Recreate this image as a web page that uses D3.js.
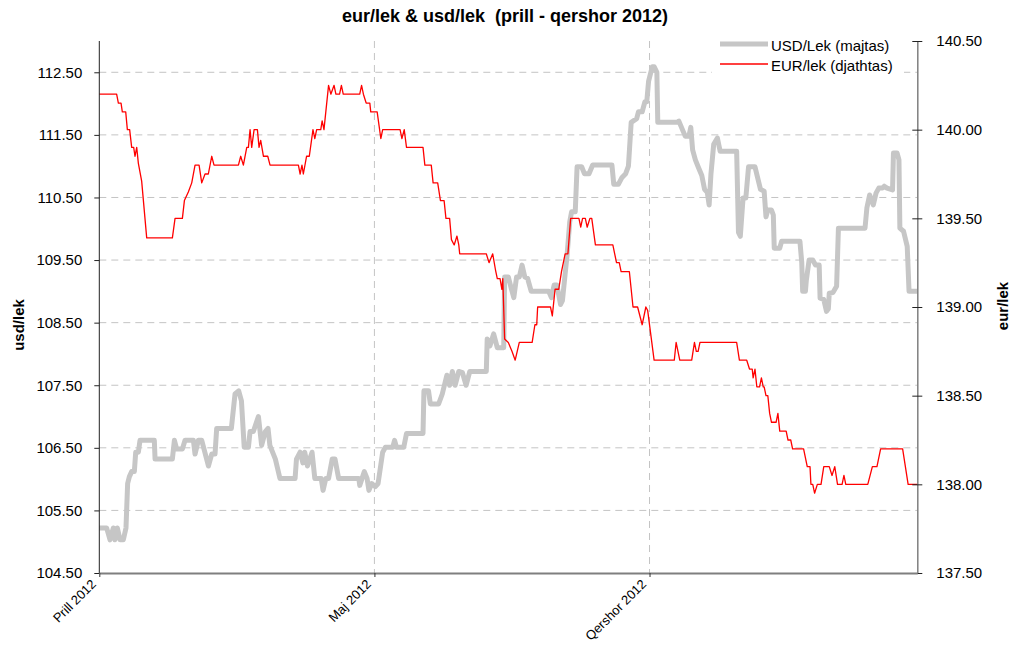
<!DOCTYPE html>
<html lang="sq">
<head>
  <meta charset="UTF-8">
  <title>eur/lek & usd/lek (prill - qershor 2012)</title>
  <script src="https://d3js.org/d3.v7.min.js"></script>
  <style>
    body { margin: 0; background: #fff; }
    svg text { font-family: "Liberation Sans", Arial, sans-serif; fill: #000; }
    .grid line { stroke: #c4c4c4; stroke-dasharray: 7,5; }
  </style>
</head>
<body>
  <svg id="chart" width="1013" height="645"></svg>

  <script>
    // month ticks on the x axis (position in days from 1 April, months drawn equally wide)
    const monthPos = [0, 30, 60];
    const monthLabels = ["Prill 2012", "Maj 2012", "Qershor 2012"];

    const usdTicks = [104.5, 105.5, 106.5, 107.5, 108.5, 109.5, 110.5, 111.5, 112.5];
    const eurTicks = [137.5, 138.0, 138.5, 139.0, 139.5, 140.0, 140.5];

    // USD/Lek (left axis)
    const usdDays = [0, 0.8, 1.17, 1.53, 1.71, 1.97, 2.26, 2.62, 2.91, 3.09, 3.28, 3.53, 3.82, 3.97, 4.26, 4.44,
      6.0, 6.08, 7.97, 8.19, 8.44, 9.06, 9.35, 10.26, 10.44, 10.8, 11.17, 11.9, 12.26, 12.62, 12.8, 14.4,
      14.8, 15.2, 15.5, 15.8, 16.26, 16.44, 16.8, 17.35, 17.7, 18.1, 18.4, 18.6, 19.2, 19.7, 21.35, 21.5,
      21.9, 22.2, 22.4, 22.7, 23.2, 23.5, 24.2, 24.4, 24.7, 25.0, 25.4, 25.7, 26.1, 28.3, 28.4, 28.9,
      29.2, 29.4, 29.7, 30.1, 30.4, 30.9, 31.2, 32.0, 32.2, 32.4, 33.2, 33.5, 35.3, 35.4, 35.9, 36.1,
      37.0, 37.4, 37.9, 38.2, 38.5, 38.8, 39.2, 39.6, 40.0, 40.4, 42.2, 42.3, 42.6, 43.0, 43.4, 44.1,
      44.2, 44.6, 44.9, 45.2, 45.5, 45.8, 46.1, 46.4, 46.7, 47.1, 49.0, 49.3, 49.6, 49.9, 50.3, 50.5,
      50.8, 51.0, 51.3, 51.5, 51.9, 52.1, 52.6, 52.9, 53.4, 53.8, 55.9, 56.1, 56.6, 57.0, 57.4, 57.7,
      58.0, 58.6, 58.8, 59.2, 59.5, 59.7, 59.9, 60.3, 60.5, 60.8, 60.9, 63.0, 63.2, 63.6, 63.9, 64.3,
      64.5, 64.7, 65.0, 65.3, 65.7, 66.0, 66.3, 66.5, 66.7, 67.0, 67.4, 67.7, 69.5, 69.7, 69.9, 70.2,
      70.5, 70.8, 71.5, 72.1, 72.5, 72.7, 72.9, 73.3, 73.5, 73.6, 74.2, 74.4, 76.4, 76.6, 76.7, 77.0,
      77.1, 77.4, 77.8, 78.1, 78.5, 78.6, 79.0, 79.3, 79.5, 79.6, 80.0, 80.4, 80.6, 83.5, 83.7, 84.0,
      84.4, 84.7, 85.0, 85.4, 85.6, 85.9, 86.5, 86.6, 87.0, 87.2, 87.3, 87.7, 88.1, 88.3, 89.2];
    const usdValues = [105.22, 105.22, 105.03, 105.22, 105.03, 105.22, 105.03, 105.03, 105.22, 105.93, 106.04, 106.12, 106.12, 106.43, 106.43, 106.62,
      106.62, 106.32, 106.32, 106.62, 106.48, 106.48, 106.62, 106.62, 106.40, 106.62, 106.62, 106.21, 106.40, 106.40, 106.81, 106.81,
      107.36, 107.41, 107.25, 106.51, 106.51, 106.76, 106.76, 107.00, 106.54, 106.76, 106.81, 106.54, 106.32, 106.01, 106.01, 106.32,
      106.43, 106.26, 106.43, 106.21, 106.43, 106.01, 106.01, 105.82, 106.01, 106.01, 106.32, 106.32, 106.01, 106.01, 105.90, 106.12,
      106.01, 105.82, 105.93, 105.88, 105.93, 106.43, 106.51, 106.51, 106.62, 106.51, 106.51, 106.73, 106.73, 107.41, 107.41, 107.20,
      107.20, 107.36, 107.66, 107.50, 107.72, 107.50, 107.72, 107.70, 107.50, 107.72, 107.72, 108.24, 108.13, 108.32, 108.10, 108.10,
      109.23, 109.23, 109.06, 108.90, 109.23, 109.23, 109.42, 109.23, 109.21, 109.00, 109.00, 108.90, 109.10, 109.10, 108.79, 108.85,
      109.28, 109.56, 110.11, 110.27, 110.27, 110.99, 110.99, 110.88, 110.88, 111.02, 111.02, 110.71, 110.71, 110.82, 110.88, 111.00,
      111.70, 111.76, 111.87, 111.87, 112.03, 112.03, 112.36, 112.59, 112.59, 112.50, 111.70, 111.70, 111.72, 111.58, 111.48, 111.48,
      111.62, 111.26, 111.10, 110.99, 110.85, 110.63, 110.58, 110.38, 110.88, 111.35, 111.45, 111.24, 111.24, 109.94, 109.88, 110.49,
      110.49, 110.99, 110.99, 110.63, 110.60, 110.19, 110.30, 110.30, 110.22, 109.69, 109.69, 109.80, 109.80, 109.46, 109.00, 109.00,
      109.18, 109.50, 109.50, 109.42, 109.42, 108.89, 108.87, 108.68, 108.72, 108.97, 108.98, 109.08, 110.01, 110.01, 110.33, 110.54,
      110.38, 110.57, 110.65, 110.65, 110.68, 110.65, 110.62, 111.21, 111.21, 111.10, 110.01, 109.96, 109.72, 109.00, 109.00];

    // EUR/lek (right axis)
    const eurDays = [0, 1.89, 2.08, 2.37, 2.51, 2.88, 3.06, 3.31, 3.53, 3.75, 3.89, 4.08, 4.26, 4.62, 5.17, 7.97,
      8.26, 9.06, 9.28, 9.72, 10.08, 10.44, 10.88, 11.17, 11.53, 11.89, 12.26, 12.51, 15.17, 15.42, 15.71, 16.08,
      16.26, 16.44, 16.62, 16.88, 17.24, 17.42, 17.6, 17.9, 18.37, 18.62, 21.71, 21.9, 22.1, 22.25, 22.6, 22.9,
      23.3, 23.5, 23.7, 24.15, 24.3, 24.5, 25.0, 25.25, 25.6, 25.8, 26.2, 26.4, 26.6, 28.4, 28.6, 28.8,
      29.1, 29.5, 29.6, 30.3, 30.7, 30.9, 32.8, 33.0, 33.25, 33.5, 35.3, 35.5, 36.2, 36.4, 36.9, 37.2,
      37.6, 37.8, 38.2, 38.4, 38.7, 39.0, 39.2, 39.3, 42.2, 42.5, 42.9, 43.2, 43.4, 43.7, 43.9, 44.0,
      44.2, 44.6, 45.0, 45.35, 45.8, 47.2, 47.5, 47.7, 47.8, 49.2, 49.4, 49.7, 50.1, 50.4, 50.8, 51.1,
      51.4, 52.3, 52.5, 52.7, 53.0, 53.2, 53.5, 53.7, 54.1, 56.0, 56.4, 56.7, 56.9, 57.8, 58.2, 58.7,
      59.2, 59.6, 59.8, 60.5, 62.7, 62.9, 63.3, 64.6, 64.9, 65.1, 65.3, 65.5, 69.5, 69.8, 70.6, 70.9,
      71.2, 71.3, 71.5, 71.7, 72.0, 72.2, 72.4, 72.5, 72.7, 72.9, 73.1, 73.3, 73.8, 74.0, 74.2, 74.9,
      75.1, 75.4, 75.6, 76.8, 77.2, 77.5, 77.6, 77.8, 78.0, 78.3, 78.7, 79.0, 79.6, 79.9, 80.2, 80.5,
      81.0, 81.2, 81.4, 83.8, 84.3, 84.8, 85.2, 87.6, 88.2, 89.2];
    const eurValues = [140.20, 140.20, 140.15, 140.15, 140.10, 140.10, 140.00, 140.00, 139.90, 139.90, 139.85, 139.90, 139.81, 139.71, 139.39, 139.39,
      139.50, 139.50, 139.60, 139.65, 139.70, 139.80, 139.80, 139.70, 139.75, 139.75, 139.85, 139.80, 139.80, 139.85, 139.80, 139.90,
      139.90, 140.00, 139.90, 140.00, 140.00, 139.90, 139.94, 139.85, 139.85, 139.80, 139.80, 139.75, 139.80, 139.75, 139.85, 139.85,
      140.00, 139.95, 140.00, 140.00, 140.05, 140.00, 140.25, 140.20, 140.25, 140.20, 140.20, 140.25, 140.20, 140.20, 140.25, 140.20,
      140.15, 140.15, 140.10, 140.10, 139.95, 140.00, 140.00, 139.95, 140.00, 139.90, 139.90, 139.80, 139.80, 139.70, 139.70, 139.60,
      139.60, 139.50, 139.50, 139.38, 139.35, 139.40, 139.35, 139.30, 139.30, 139.25, 139.30, 139.21, 139.16, 139.16, 139.10, 139.16,
      138.82, 138.80, 138.75, 138.70, 138.80, 138.80, 138.90, 138.90, 139.00, 139.00, 138.95, 139.10, 139.10, 139.20, 139.30, 139.30,
      139.50, 139.50, 139.45, 139.50, 139.50, 139.45, 139.50, 139.50, 139.35, 139.35, 139.25, 139.25, 139.20, 139.20, 139.00, 139.00,
      138.90, 139.00, 138.98, 138.70, 138.70, 138.80, 138.70, 138.70, 138.80, 138.75, 138.75, 138.80, 138.80, 138.70, 138.70, 138.65,
      138.65, 138.60, 138.65, 138.55, 138.55, 138.60, 138.55, 138.55, 138.50, 138.50, 138.40, 138.35, 138.35, 138.40, 138.30, 138.30,
      138.25, 138.25, 138.20, 138.20, 138.10, 138.10, 138.00, 138.00, 137.95, 138.00, 138.00, 138.10, 138.10, 138.05, 138.10, 138.00,
      138.00, 138.05, 138.00, 138.00, 138.10, 138.10, 138.20, 138.20, 138.00, 138.00];

    const usd = usdDays.map((d, i) => ({ day: d, value: usdValues[i] }));
    const eur = eurDays.map((d, i) => ({ day: d, value: eurValues[i] }));

    const svg = d3.select("#chart");
    const plotLeft = 99.3, plotRight = 917.3, plotTop = 41, plotBottom = 573;

    const x = d3.scaleLinear().domain([0, 89.2]).range([plotLeft, plotRight]);
    const yL = d3.scaleLinear().domain([104.5, 113.0]).range([plotBottom, plotTop]);
    const yR = d3.scaleLinear().domain([137.5, 140.5]).range([plotBottom, plotTop]);

    svg.append("rect").attr("width", 1013).attr("height", 645).attr("fill", "#fff");

    // dashed grid
    const grid = svg.append("g").attr("class", "grid");
    grid.selectAll(".h").data(usdTicks.slice(1)).enter().append("line")
      .attr("x1", plotLeft).attr("x2", plotRight)
      .attr("y1", d => yL(d)).attr("y2", d => yL(d));
    grid.selectAll(".v").data(monthPos.slice(1)).enter().append("line")
      .attr("x1", d => x(d)).attr("x2", d => x(d))
      .attr("y1", plotTop).attr("y2", plotBottom);

    // lines
    const usdLine = d3.line().x(d => x(d.day)).y(d => yL(d.value));
    const eurLine = d3.line().x(d => x(d.day)).y(d => yR(d.value));

    svg.append("path").datum(usd)
      .attr("d", usdLine)
      .attr("fill", "none").attr("stroke", "#c6c6c6")
      .attr("stroke-width", 5).attr("stroke-linejoin", "round");

    svg.append("path").datum(eur)
      .attr("d", eurLine)
      .attr("fill", "none").attr("stroke", "#ff0000")
      .attr("stroke-width", 1.3).attr("stroke-linejoin", "round");

    // left axis
    const axL = svg.append("g").attr("transform", `translate(${plotLeft},0)`)
      .call(d3.axisLeft(yL).tickValues(usdTicks).tickSize(5).tickSizeOuter(0)
        .tickPadding(12).tickFormat(d3.format(".2f")));
    axL.select(".domain").attr("stroke", "#222").attr("d", `M0,${plotTop}V${plotBottom}`);
    axL.selectAll(".tick line").attr("stroke", "#222");
    axL.selectAll("text").style("font-size", "15px");

    // right axis
    const axR = svg.append("g").attr("transform", `translate(${plotRight},0)`)
      .call(d3.axisRight(yR).tickValues(eurTicks).tickSize(5).tickSizeOuter(0)
        .tickPadding(14).tickFormat(d3.format(".2f")));
    axR.select(".domain").attr("stroke", "#7f7f7f").attr("stroke-width", 1.5);
    axR.selectAll(".tick line").attr("x1", -5).attr("stroke", "#222");
    axR.selectAll("text").style("font-size", "15px");

    // bottom axis
    const axB = svg.append("g").attr("transform", `translate(0,${plotBottom})`)
      .call(d3.axisBottom(x).tickValues(monthPos).tickSize(4).tickSizeOuter(0)
        .tickFormat((d, i) => monthLabels[i]));
    axB.select(".domain").attr("stroke", "#7f7f7f").attr("stroke-width", 2.2);
    axB.selectAll(".tick line").attr("stroke", "#333");
    axB.selectAll("text")
      .attr("x", 0).attr("y", 0).attr("dy", 0)
      .attr("text-anchor", "end")
      .attr("transform", "translate(-3,12) rotate(-45)")
      .style("font-size", "13px");

    // title and axis titles
    svg.append("text").attr("x", 505).attr("y", 22)
      .attr("text-anchor", "middle")
      .style("font-size", "18px").style("font-weight", "bold")
      .style("white-space", "pre")
      .text("eur/lek & usd/lek  (prill - qershor 2012)");

    svg.append("text").attr("transform", "translate(24,325) rotate(-90)")
      .attr("text-anchor", "middle")
      .style("font-size", "15px").style("font-weight", "bold")
      .text("usd/lek");

    svg.append("text").attr("transform", "translate(1008,306) rotate(-90)")
      .attr("text-anchor", "middle")
      .style("font-size", "15px").style("font-weight", "bold")
      .text("eur/lek");

    // legend
    const legend = svg.append("g");
    legend.append("rect").attr("x", 712).attr("y", 33).attr("width", 192).attr("height", 44)
      .attr("fill", "#fff");
    const items = [
      { name: "USD/Lek (majtas)", color: "#c6c6c6", width: 5, y: 44 },
      { name: "EUR/lek (djathtas)", color: "#ff0000", width: 1.3, y: 64 }
    ];
    const li = legend.selectAll(".item").data(items).enter().append("g");
    li.append("line")
      .attr("x1", 720).attr("x2", 768)
      .attr("y1", d => d.y).attr("y2", d => d.y)
      .attr("stroke", d => d.color).attr("stroke-width", d => d.width);
    li.append("text")
      .attr("x", 771).attr("y", d => d.y + 7)
      .style("font-size", "15px")
      .text(d => d.name);
  </script>
</body>
</html>
